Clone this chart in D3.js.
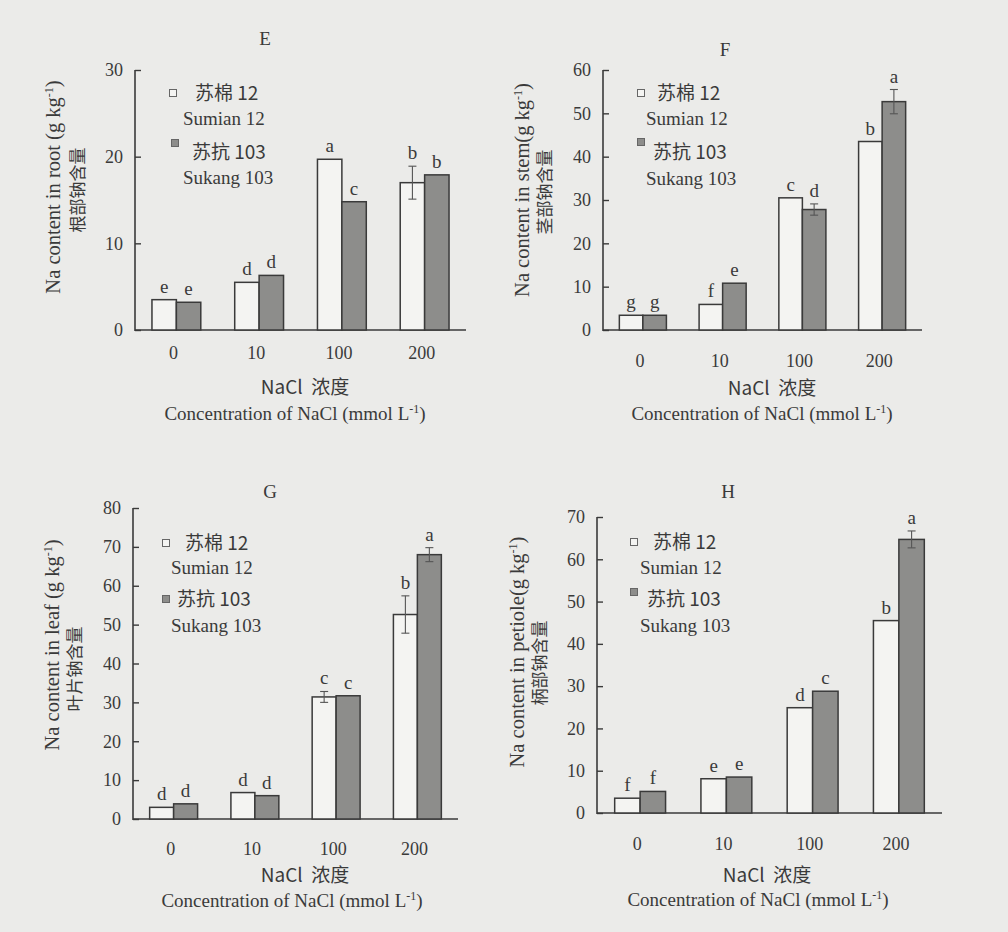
<!DOCTYPE html>
<html>
<head>
<meta charset="utf-8">
<script src="https://cdn.jsdelivr.net/npm/d3@7"></script>
<style>
  html, body { margin: 0; padding: 0; background: #ebebe9; }
  svg { display: block; }
  text { font-family: "Liberation Serif", "Times New Roman", serif; fill: #3a3a3a; }
  .cn { font-family: "Noto Sans CJK SC", "Noto Sans", sans-serif; }
</style>
</head>
<body>
<svg id="chart" width="1008" height="932"></svg>
<script>
// ---------- data ----------
const concentrations = ["0", "10", "100", "200"];
const legendCn = ["苏棉 12", "苏抗 103"];
const legendEn = ["Sumian 12", "Sukang 103"];

// E: root
const rootSumian = [3.5, 5.5, 19.7, 17.0];
const rootSukang = [3.2, 6.3, 14.8, 17.9];
const rootSumianErr = [0, 0, 0, 1.9];
const rootSukangErr = [0, 0, 0, 0];
const rootSumianSig = ["e", "d", "a", "b"];
const rootSukangSig = ["e", "d", "c", "b"];
const rootTicks = [0, 10, 20, 30];

// F: stem
const stemSumian = [3.4, 5.9, 30.5, 43.5];
const stemSukang = [3.4, 10.8, 27.8, 52.7];
const stemSumianErr = [0, 0, 0, 0];
const stemSukangErr = [0, 0, 1.3, 2.8];
const stemSumianSig = ["g", "f", "c", "b"];
const stemSukangSig = ["g", "e", "d", "a"];
const stemTicks = [0, 10, 20, 30, 40, 50, 60];

// G: leaf
const leafSumian = [3.0, 6.8, 31.4, 52.6];
const leafSukang = [3.9, 6.0, 31.7, 68.0];
const leafSumianErr = [0, 0, 1.4, 4.8];
const leafSukangErr = [0, 0, 0, 1.8];
const leafSumianSig = ["d", "d", "c", "b"];
const leafSukangSig = ["d", "d", "c", "a"];
const leafTicks = [0, 10, 20, 30, 40, 50, 60, 70, 80];

// H: petiole
const petioleSumian = [3.5, 8.1, 24.9, 45.5];
const petioleSukang = [5.1, 8.5, 28.8, 64.7];
const petioleSumianErr = [0, 0, 0, 0];
const petioleSukangErr = [0, 0, 0, 2.0];
const petioleSumianSig = ["f", "e", "d", "b"];
const petioleSukangSig = ["f", "e", "c", "a"];
const petioleTicks = [0, 10, 20, 30, 40, 50, 60, 70];

const titles = ["E", "F", "G", "H"];
const yLabelEn = ["Na content in root (g kg", "Na content in stem(g kg", "Na content in leaf (g kg", "Na content in petiole(g kg"];
const yLabelCn = ["根部钠含量", "茎部钠含量", "叶片钠含量", "柄部钠含量"];
const xLabelCn = "NaCl\u00a0\u00a0浓度";
const xLabelEn = "Concentration of NaCl (mmol L";

// ---------- layout (pixels) ----------
const panels = [
  { title: titles[0], enL: yLabelEn[0], cnL: yLabelCn[0],
    s1: rootSumian, s2: rootSukang, e1: rootSumianErr, e2: rootSukangErr, g1: rootSumianSig, g2: rootSukangSig, ticks: rootTicks,
    x0: 135, x1: 466, yTop: 70, y0: 330, tickDy: 22,
    titleXY: [265, 38], enXY: [53, 187], cnXY: [78, 190],
    leg: { sq1: [173, 93], t1: [195, 93], t2: [183, 118], sq2: [175, 143], t3: [192, 152], t4: [183, 177] },
    xl1: [305, 387], xl2: [295, 413] },
  { title: titles[1], enL: yLabelEn[1], cnL: yLabelCn[1],
    s1: stemSumian, s2: stemSukang, e1: stemSumianErr, e2: stemSukangErr, g1: stemSumianSig, g2: stemSukangSig, ticks: stemTicks,
    x0: 603, x1: 922, yTop: 70, y0: 330, tickDy: 30,
    titleXY: [725, 49], enXY: [522, 190], cnXY: [545, 192],
    leg: { sq1: [641, 93], t1: [657, 93], t2: [646, 118], sq2: [641, 142], t3: [653, 152], t4: [646, 178] },
    xl1: [772, 388], xl2: [762, 413] },
  { title: titles[2], enL: yLabelEn[2], cnL: yLabelCn[2],
    s1: leafSumian, s2: leafSukang, e1: leafSumianErr, e2: leafSukangErr, g1: leafSumianSig, g2: leafSukangSig, ticks: leafTicks,
    x0: 133, x1: 458, yTop: 508, y0: 819, tickDy: 29,
    titleXY: [270, 491], enXY: [52, 645], cnXY: [75, 669],
    leg: { sq1: [166, 543], t1: [185, 543], t2: [171, 567], sq2: [166, 599], t3: [177, 599], t4: [171, 625] },
    xl1: [305, 875], xl2: [292, 900] },
  { title: titles[3], enL: yLabelEn[3], cnL: yLabelCn[3],
    s1: petioleSumian, s2: petioleSukang, e1: petioleSumianErr, e2: petioleSukangErr, g1: petioleSumianSig, g2: petioleSukangSig, ticks: petioleTicks,
    x0: 597, x1: 942, yTop: 517, y0: 813, tickDy: 30,
    titleXY: [728, 491], enXY: [517, 652], cnXY: [540, 663],
    leg: { sq1: [634, 542], t1: [653, 542], t2: [640, 567], sq2: [634, 592], t3: [647, 599], t4: [640, 625] },
    xl1: [767, 875], xl2: [758, 899] }
];

const svg = d3.select("#chart");
const ink = "#3a3a3a";
const greyFill = "#8d8d8b";
const whiteFill = "#f4f4f2";
const FS = 19;

function addSup(sel, base, sup, tail) {
  sel.append("tspan").text(base);
  sel.append("tspan").attr("baseline-shift", "super").attr("font-size", 12).text(sup);
  sel.append("tspan").text(tail);
}

panels.forEach(p => {
  const g = svg.append("g");
  const ymax = p.ticks[p.ticks.length - 1];
  const y = d3.scaleLinear().domain([0, ymax]).range([p.y0, p.yTop]);
  const x = d3.scaleBand().domain(concentrations).range([p.x0, p.x1]).paddingInner(0.41).paddingOuter(0.205);
  const xs = d3.scaleBand().domain([0, 1]).range([0, x.bandwidth()]);

  // y axis
  const yAxis = d3.axisLeft(y).tickValues(p.ticks).tickSize(-6).tickPadding(12).tickFormat(d3.format("d"));
  const ya = g.append("g").attr("transform", `translate(${p.x0},0)`).call(yAxis);
  ya.select(".domain").remove();
  ya.selectAll("line").attr("stroke", ink).attr("stroke-width", 1.4);
  ya.selectAll("text").attr("font-size", 18).attr("fill", ink)
    .style("font-family", '"Liberation Serif", serif');
  g.append("line").attr("x1", p.x0).attr("x2", p.x0).attr("y1", y(ymax)).attr("y2", p.y0 + 1)
    .attr("stroke", ink).attr("stroke-width", 1.6);

  // x axis
  const xAxis = d3.axisBottom(x).tickSize(0).tickPadding(p.tickDy - 6);
  const xa = g.append("g").attr("transform", `translate(0,${p.y0})`).call(xAxis);
  xa.select(".domain").remove();
  xa.selectAll("text").attr("font-size", 18).attr("fill", ink).attr("dx", -3)
    .style("font-family", '"Liberation Serif", serif');
  g.append("line").attr("x1", p.x0).attr("x2", p.x1).attr("y1", p.y0).attr("y2", p.y0)
    .attr("stroke", ink).attr("stroke-width", 1.6);

  // bars
  const series = [
    { vals: p.s1, errs: p.e1, sig: p.g1, fill: whiteFill, k: 0 },
    { vals: p.s2, errs: p.e2, sig: p.g2, fill: greyFill, k: 1 }
  ];
  series.forEach(s => {
    const data = concentrations.map((c, i) => ({ c, v: s.vals[i], e: s.errs[i], sig: s.sig[i] }));
    g.selectAll(null).data(data).enter().append("rect")
      .attr("x", d => x(d.c) + xs(s.k))
      .attr("y", d => y(d.v))
      .attr("width", xs.bandwidth())
      .attr("height", d => p.y0 - y(d.v))
      .attr("fill", s.fill)
      .attr("stroke", ink).attr("stroke-width", 1.5);
    // error bars
    const eb = data.filter(d => d.e > 0);
    const cx = d => x(d.c) + xs(s.k) + xs.bandwidth() / 2;
    g.selectAll(null).data(eb).enter().append("line")
      .attr("x1", cx).attr("x2", cx)
      .attr("y1", d => y(d.v + d.e)).attr("y2", d => y(d.v - d.e))
      .attr("stroke", "#555").attr("stroke-width", 1.1);
    [1, -1].forEach(sg => {
      g.selectAll(null).data(eb).enter().append("line")
        .attr("x1", d => cx(d) - 4).attr("x2", d => cx(d) + 4)
        .attr("y1", d => y(d.v + sg * d.e)).attr("y2", d => y(d.v + sg * d.e))
        .attr("stroke", "#555").attr("stroke-width", 1.1);
    });
    // significance letters
    g.selectAll(null).data(data).enter().append("text")
      .attr("x", cx)
      .attr("y", d => y(d.v + d.e) - 7)
      .attr("text-anchor", "middle")
      .attr("font-size", FS)
      .text(d => d.sig);
  });

  // title
  g.append("text").attr("x", p.titleXY[0]).attr("y", p.titleXY[1]).attr("dy", "0.35em")
    .attr("text-anchor", "middle").attr("font-size", FS).text(p.title);

  // y labels
  const en = g.append("text").attr("transform", `translate(${p.enXY[0]},${p.enXY[1]}) rotate(-90)`)
    .attr("dy", "0.35em").attr("text-anchor", "middle").attr("font-size", 20.5);
  addSup(en, p.enL, "-1", ")");
  g.append("text").attr("class", "cn").attr("transform", `translate(${p.cnXY[0]},${p.cnXY[1]}) rotate(-90)`)
    .attr("dy", "0.35em").attr("text-anchor", "middle").attr("font-size", 17).text(p.cnL);

  // x labels
  g.append("text").attr("class", "cn").attr("x", p.xl1[0]).attr("y", p.xl1[1]).attr("dy", "0.35em")
    .attr("text-anchor", "middle").attr("font-size", FS).text(xLabelCn);
  const xe = g.append("text").attr("x", p.xl2[0]).attr("y", p.xl2[1]).attr("dy", "0.35em")
    .attr("text-anchor", "middle").attr("font-size", FS);
  addSup(xe, xLabelEn, "-1", ")");

  // legend
  const L = p.leg;
  g.append("rect").attr("x", L.sq1[0] - 3.5).attr("y", L.sq1[1] - 3.5).attr("width", 7).attr("height", 7)
    .attr("fill", whiteFill).attr("stroke", "#666").attr("stroke-width", 1);
  g.append("rect").attr("x", L.sq2[0] - 3.5).attr("y", L.sq2[1] - 3.5).attr("width", 7).attr("height", 7)
    .attr("fill", greyFill).attr("stroke", "#666").attr("stroke-width", 1);
  g.append("text").attr("class", "cn").attr("x", L.t1[0]).attr("y", L.t1[1]).attr("dy", "0.35em").attr("font-size", FS).text(legendCn[0]);
  g.append("text").attr("x", L.t2[0]).attr("y", L.t2[1]).attr("dy", "0.35em").attr("font-size", FS).text(legendEn[0]);
  g.append("text").attr("class", "cn").attr("x", L.t3[0]).attr("y", L.t3[1]).attr("dy", "0.35em").attr("font-size", FS).text(legendCn[1]);
  g.append("text").attr("x", L.t4[0]).attr("y", L.t4[1]).attr("dy", "0.35em").attr("font-size", FS).text(legendEn[1]);
});
</script>
</body>
</html>
